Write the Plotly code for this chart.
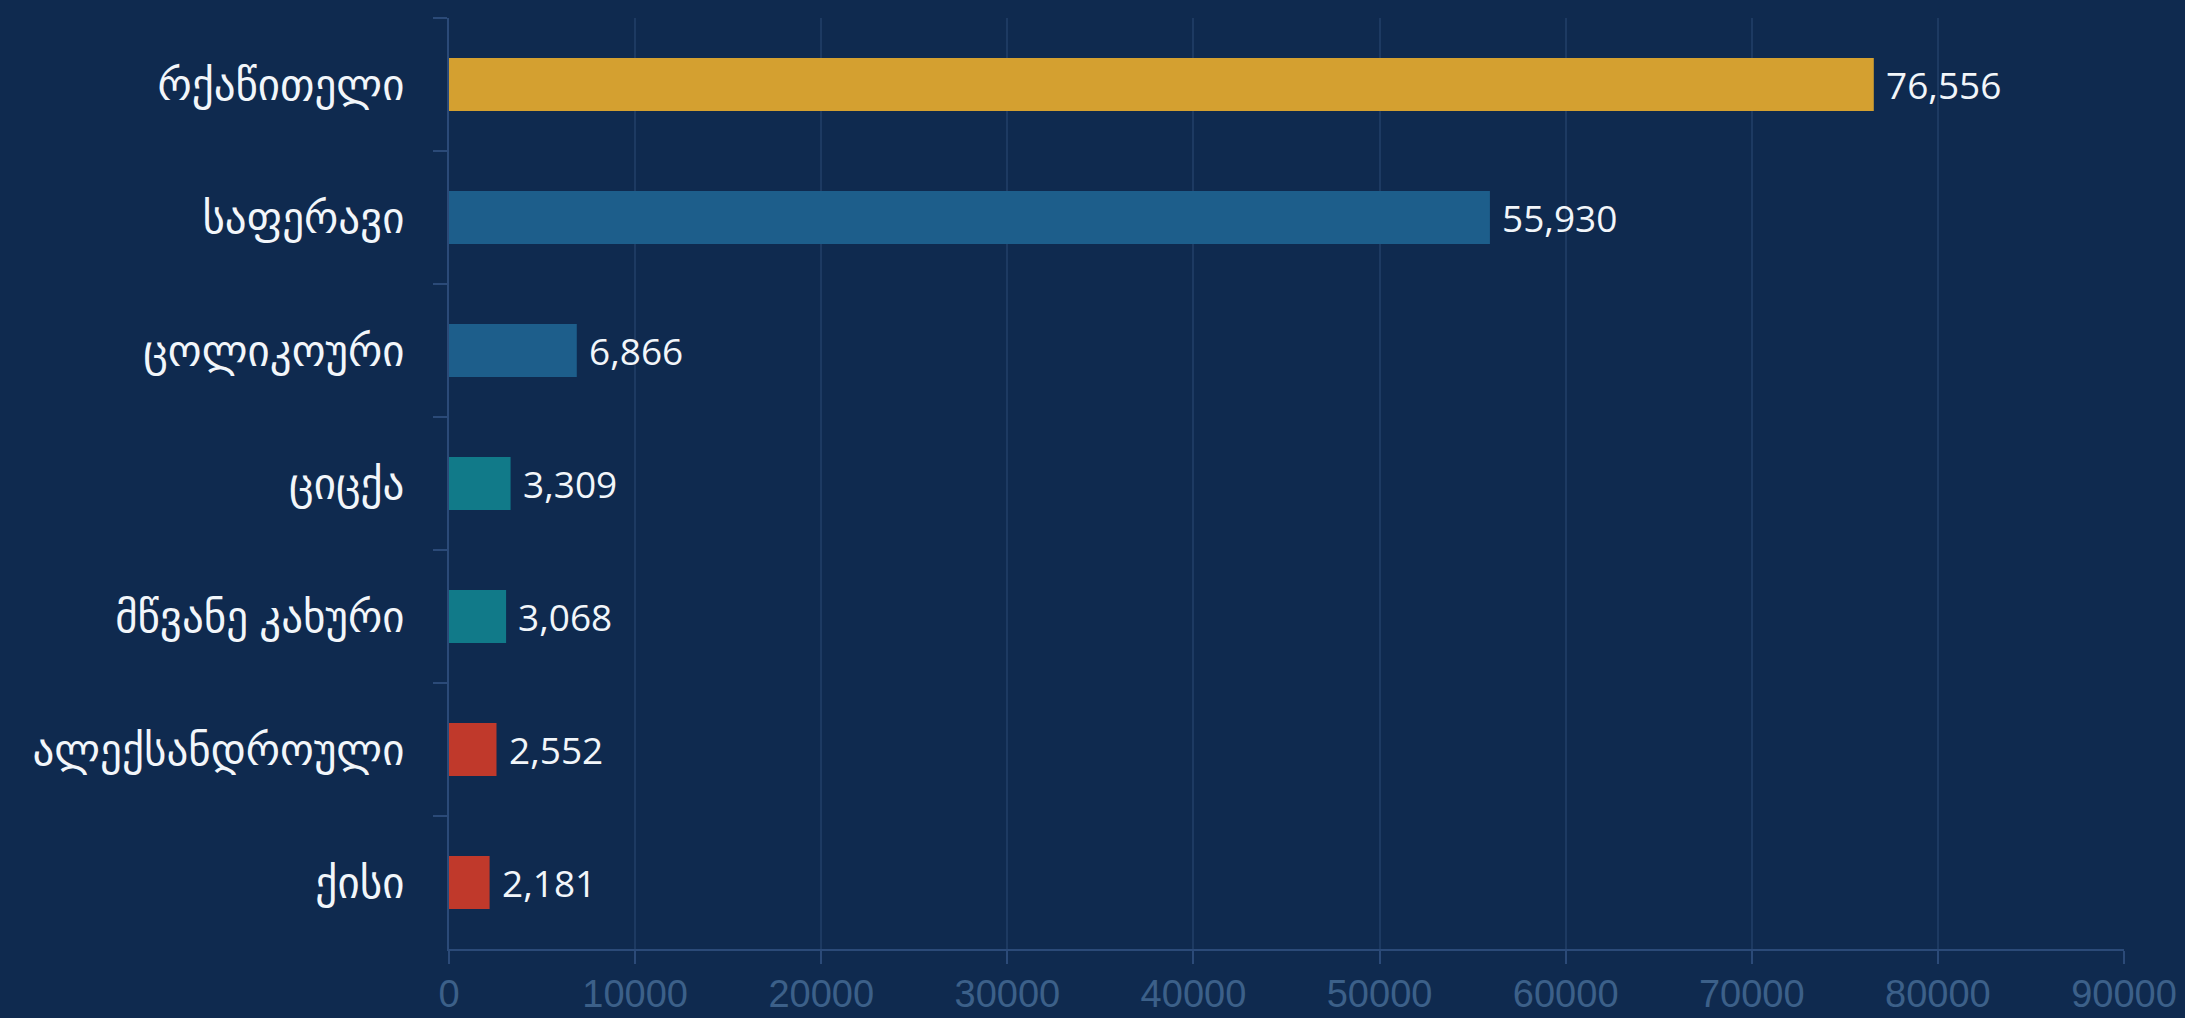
import plotly.graph_objects as go

categories = ["რქაწითელი", "საფერავი", "ცოლიკოური", "ციცქა", "მწვანე კახური", "ალექსანდროული", "ქისი"]
values = [76556, 55930, 6866, 3309, 3068, 2552, 2181]
colors = ["#d4a030", "#1d5e8b", "#1d5e8b", "#117a89", "#117a89", "#c0392b", "#c0392b"]
x_ticks = [0, 10000, 20000, 30000, 40000, 50000, 60000, 70000, 80000, 90000]

BG = "#0f2a4f"

fig = go.Figure(
    go.Bar(
        x=values,
        y=categories,
        orientation="h",
        marker=dict(color=colors, line=dict(width=0)),
        width=0.4,
        hoverinfo="x+y",
    )
)

for v, c in zip(values, categories):
    fig.add_annotation(
        x=v, y=c, text=f"{v:,}", showarrow=False,
        xanchor="left", yanchor="middle", xshift=10,
        font=dict(family="Open Sans", size=37, color="#f2f6fa"),
    )

fig.update_layout(
    width=2185,
    height=1018,
    paper_bgcolor=BG,
    plot_bgcolor=BG,
    margin=dict(l=449, r=61, t=18, b=69, autoexpand=False),
    showlegend=False,
    xaxis=dict(
        range=[0, 90000],
        tickvals=x_ticks,
        ticktext=[str(t) for t in x_ticks],
        automargin=False,
        showgrid=True,
        gridcolor="#1d3a62",
        gridwidth=1.5,
        zeroline=False,
        showline=True,
        linecolor="#2b4a78",
        linewidth=2,
        ticks="outside",
        ticklen=13,
        tickwidth=1.5,
        tickcolor="#2b4a78",
        ticklabelstandoff=-3,
        tickfont=dict(family="Liberation Sans, Arial", size=38, color="#3c6089"),
    ),
    yaxis=dict(
        categoryorder="array",
        categoryarray=categories,
        autorange="reversed",
        automargin=False,
        showgrid=False,
        zeroline=False,
        showline=True,
        linecolor="#2b4a78",
        linewidth=2,
        ticks="outside",
        tickson="boundaries",
        ticklen=14,
        tickwidth=1.5,
        tickcolor="#2b4a78",
        tickfont=dict(family="Open Sans, DejaVu Sans", size=43, color="#f2f6fa"),
        ticklabelstandoff=34,
    ),
)

fig.write_html(
    "out.html",
    config={"displayModeBar": False},
    post_script="document.body.style.margin='0';document.body.style.background='#0f2a4f';",
)
